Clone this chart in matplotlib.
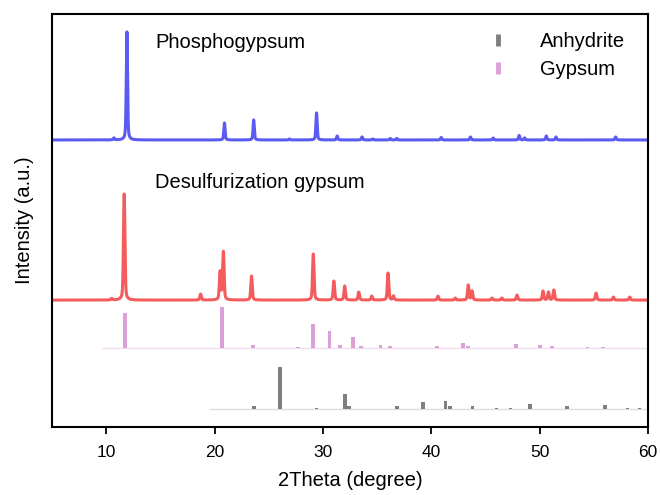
import numpy as np
import matplotlib
matplotlib.use("Agg")
import matplotlib.pyplot as plt
from matplotlib.lines import Line2D

plt.rcParams['font.family'] = ['Liberation Sans', 'DejaVu Sans']

# ---- data (peak positions in 2theta degrees, relative intensities) ----
phospho_pos = [10.7, 11.9, 20.9, 23.6, 26.9, 29.4, 31.3, 33.6, 34.6, 36.2, 36.8,
               40.9, 43.6, 45.7, 48.1, 48.6, 50.6, 51.5, 57.0]
phospho_int = [2, 108, 17, 20, 1, 27, 4, 3, 1, 1.5, 1.5,
               2.5, 3, 2, 4.5, 2, 4, 3, 3]

desulf_pos = [10.5, 11.65, 18.7, 20.5, 20.8, 23.4, 29.1, 31.0, 32.0, 33.3, 34.5,
              36.0, 36.5, 40.6, 42.2, 43.4, 43.75, 45.6, 46.5, 47.9, 50.3, 50.8,
              51.3, 55.2, 56.8, 58.3]
desulf_int = [1.5, 106, 6, 28, 48, 24, 46, 19, 14, 8, 4,
              27, 4, 4, 2, 15, 9, 2, 2, 5, 9, 8,
              10, 7, 3, 3]

gypsum_pos = [11.7, 20.7, 23.5, 27.7, 29.1, 30.6, 31.6, 32.8, 33.5, 35.3, 36.2, 40.5,
              42.9, 43.4, 47.8, 50.0, 51.1, 54.4, 55.8]
gypsum_int = [35, 41, 3.5, 1, 24, 17, 3, 11, 2, 3, 2, 2.5,
              5, 2, 4, 3, 2, 1, 1]

anhydrite_pos = [19.6, 23.6, 26.0, 29.4, 32.0, 32.4, 36.8, 39.2, 41.3, 41.7, 43.8,
                 46.0, 47.3, 49.1, 52.5, 56.0, 58.1, 59.2]
anhydrite_int = [0.5, 3, 42, 1, 15, 3, 3, 7, 8, 3, 3,
                 1, 1, 5, 3, 4, 1, 1]

# ---- layout / style ----
off_phospho, off_desulf, off_gyp, off_anh = 287, 127, 79, 18
c_blue, c_red, c_gyp, c_anh = '#5b5bf2', '#f45c5c', '#dba0d8', '#7f7f7f'

x = np.linspace(5, 60, 5501)

def profile(pos, inten, w):
    y = np.zeros_like(x)
    for p, h in zip(pos, inten):
        y += h * (0.35 / (1 + ((x - p) / w) ** 2) + 0.65 * np.exp(-((x - p) / w) ** 2))
    return y

fig, ax = plt.subplots(figsize=(6.6, 4.95), dpi=100)
fig.subplots_adjust(left=0.079, right=0.982, top=0.972, bottom=0.137)

ax.plot(x, off_phospho + profile(phospho_pos, phospho_int, 0.08), color=c_blue, lw=2.2)
ax.plot(x, off_desulf + profile(desulf_pos, desulf_int, 0.09), color=c_red, lw=2.2)

# reference patterns
ax.plot([9.6, 60], [off_gyp, off_gyp], color='#f0dcef', lw=1.0, zorder=1)
ax.bar(gypsum_pos, gypsum_int, width=0.35, bottom=off_gyp, color=c_gyp, zorder=2)
ax.plot([19.6, 60], [off_anh, off_anh], color='#dddddd', lw=1.0, zorder=1)
ax.bar(anhydrite_pos, anhydrite_int, width=0.35, bottom=off_anh, color=c_anh, zorder=2)

ax.text(14.5, 384, 'Phosphogypsum', fontsize=14.5, va='center', ha='left')
ax.text(14.5, 244, 'Desulfurization gypsum', fontsize=14.5, va='center', ha='left')

handles = [Line2D([], [], color=c_anh, marker='|', ls='none', markersize=9, markeredgewidth=3.5),
           Line2D([], [], color=c_gyp, marker='|', ls='none', markersize=9, markeredgewidth=3.5)]
ax.legend(handles, ['Anhydrite', 'Gypsum'], loc='upper right', bbox_to_anchor=(0.992, 1.0),
          frameon=False, fontsize=14.5, handlelength=1.0, handletextpad=1.6, labelspacing=0.45)

ax.set_xlim(5, 60)
ax.set_ylim(0, 413)
ax.set_xticks([10, 20, 30, 40, 50, 60])
ax.set_yticks([])
ax.tick_params(axis='x', direction='out', length=5, width=1.3, labelsize=12.5, pad=8)
for s in ax.spines.values():
    s.set_linewidth(1.5)
ax.set_xlabel('2Theta (degree)', fontsize=14.5, labelpad=8)
ax.set_ylabel('Intensity (a.u.)', fontsize=14.5, labelpad=13)

fig.savefig('out.png', dpi=100)
